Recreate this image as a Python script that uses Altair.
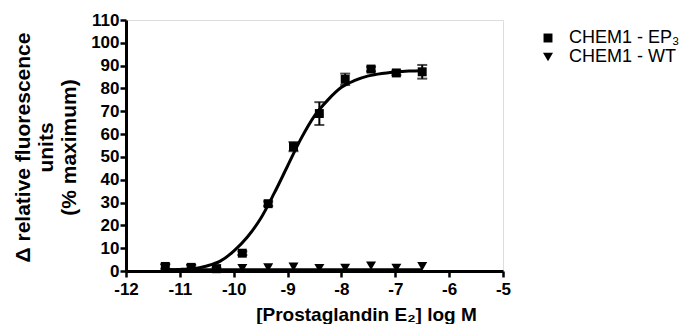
import altair as alt
import pandas as pd

# measured points
log_conc = [-11.27, -10.79, -10.32, -9.84, -9.36, -8.89, -8.41, -7.93, -7.45, -6.98, -6.50]
ep3_mean = [2.0, 1.6, 1.0, 7.8, 29.5, 54.5, 69.0, 84.0, 88.5, 86.8, 87.3]
ep3_err = [1.0, 1.0, 0.5, 0.8, 1.0, 2.0, 5.0, 2.5, 1.0, 1.0, 3.0]
wt_mean = [1.2, 1.2, 1.0, 1.2, 1.5, 1.8, 1.2, 1.3, 2.3, 1.3, 2.0]

# fitted curve
curve_x = [-11.27, -11.0, -10.75, -10.5, -10.25, -10.0, -9.75, -9.5, -9.25, -9.0,
           -8.75, -8.5, -8.25, -8.0, -7.75, -7.5, -7.25, -7.0, -6.75, -6.5]
curve_y = [0.6, 0.7, 1.0, 2.2, 4.3, 8.7, 14.8, 23.0, 34.0, 46.0,
           58.0, 68.0, 75.0, 80.5, 83.5, 85.5, 86.6, 87.2, 87.6, 87.8]

wt_flat_x = [-11.27, -6.50]
wt_flat_y = [0.6, 0.6]

series_names = ["CHEM1 - EP\u2083", "CHEM1 - WT"]

pts = pd.DataFrame({
    "x": log_conc * 2,
    "y": ep3_mean + wt_mean,
    "series": [series_names[0]] * len(log_conc) + [series_names[1]] * len(log_conc),
})
err = pd.DataFrame({
    "x": log_conc,
    "y": [m - e for m, e in zip(ep3_mean, ep3_err)],
    "hi": [m + e for m, e in zip(ep3_mean, ep3_err)],
})
curve = pd.DataFrame({"x": curve_x, "y": curve_y})
flat = pd.DataFrame({"x": wt_flat_x, "y": wt_flat_y})

FONT = "Liberation Sans"

xscale = alt.Scale(domain=[-12, -5], nice=False, zero=False)
yscale = alt.Scale(domain=[0, 110], nice=False)

xaxis = alt.Axis(
    values=list(range(-12, -4)),
    labelExpr="'-' + abs(datum.value)",
    title="[Prostaglandin E\u2082] log M",
    titleX=240, titleY=43, titleBaseline="middle", titleAlign="center",
    titleFont=FONT, titleFontSize=19, titleFontWeight="bold", titleColor="black",
    labelFont=FONT, labelFontSize=17, labelFontWeight="bold", labelColor="black",
    labelPadding=4, tickSize=6, tickWidth=2.5, tickColor="black",
    domainWidth=3, domainColor="black", grid=False, labelFlush=False,
)
yaxis = alt.Axis(
    values=list(range(0, 111, 10)),
    title=["\u0394 relative fluorescence", "units", "(% maximum)"],
    titleX=-103, titleY=127, titleBaseline="middle", titleAlign="center",
    titleLineHeight=23,
    titleFont=FONT, titleFontSize=21, titleFontWeight="bold", titleColor="black",
    labelFont=FONT, labelFontSize=17, labelFontWeight="bold", labelColor="black",
    labelPadding=1, tickSize=6, tickWidth=2.5, tickColor="black",
    domainWidth=3, domainColor="black", grid=False, labelFlush=False,
)

X = alt.X("x:Q", scale=xscale, axis=xaxis)
Y = alt.Y("y:Q", scale=yscale, axis=yaxis)

line = alt.Chart(curve).mark_line(color="black", strokeWidth=3, interpolate="monotone").encode(
    x=X, y=Y)
flat_line = alt.Chart(flat).mark_line(color="black", strokeWidth=3).encode(x=X, y=Y)

rule = alt.Chart(err).mark_rule(color="black", strokeWidth=2).encode(x=X, y=Y, y2="hi:Q")
cap_lo = alt.Chart(err).mark_tick(color="black", orient="horizontal", size=10, thickness=2).encode(
    x=X, y=Y)
cap_hi = alt.Chart(err).mark_tick(color="black", orient="horizontal", size=10, thickness=2).encode(
    x=X, y=alt.Y("hi:Q", scale=yscale, axis=yaxis))

legend = alt.Legend(
    title=None, orient="none", legendX=413, legendY=9,
    labelFont=FONT, labelFontSize=18, labelColor="black",
    symbolFillColor="black", symbolStrokeColor="black",
    rowPadding=1, labelOffset=12,
)

points = alt.Chart(pts).mark_point(filled=True, color="black", opacity=1).encode(
    x=X, y=Y,
    size=alt.Size("series:N", scale=alt.Scale(domain=series_names, range=[80, 100]), legend=legend),
    shape=alt.Shape("series:N",
                    scale=alt.Scale(domain=series_names, range=["square", "triangle-down"]),
                    legend=legend),
)

chart = alt.layer(line, flat_line, rule, cap_lo, cap_hi, points).properties(
    width=377, height=251,
    autosize=alt.AutoSizeParams(type="none"),
    padding={"left": 118, "top": 12, "right": 186, "bottom": 53},
).configure_view(stroke=None).configure(background="white")

chart.save("out.html", embed_options={"renderer": "svg", "actions": False})
